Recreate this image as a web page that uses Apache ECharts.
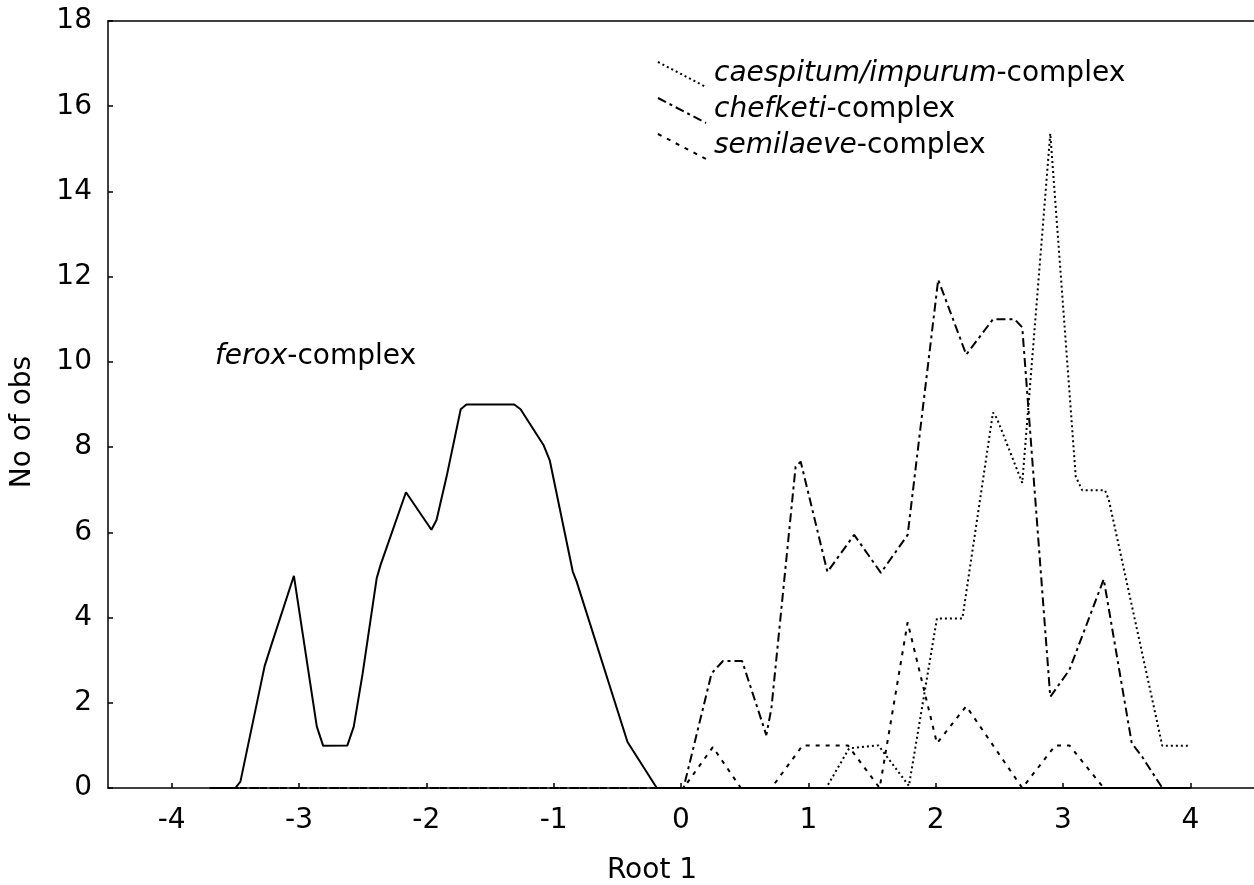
<!DOCTYPE html>
<html>
<head>
<meta charset="utf-8">
<script src="https://cdn.jsdelivr.net/npm/echarts@6/dist/echarts.min.js"></script>
<style>
  html, body { margin: 0; padding: 0; background: #fff; }
  #chart { width: 1254px; height: 885px; }
</style>
</head>
<body>
<div id="chart"></div>
<script>
// frequency polygons, Root 1 vs No of obs
var feroxX = [-3.7, -3.50, -3.46, -3.27, -3.22, -3.04, -2.86, -2.81, -2.62, -2.57, -2.50, -2.39, -2.36, -2.16, -1.96, -1.92, -1.84, -1.73, -1.685, -1.31, -1.26, -1.08, -1.03, -0.85, -0.82, -0.42, -0.38, -0.19, 4.0];
var feroxY = [0, 0, 0.15, 2.86, 3.33, 4.98, 1.44, 0.99, 1.0, 1.44, 2.69, 4.92, 5.23, 6.94, 6.06, 6.29, 7.32, 8.89, 9.0, 9.0, 8.89, 8.05, 7.68, 5.08, 4.85, 1.08, 0.89, 0, 0];

var chefketiX = [-3.7, 0.02, 0.24, 0.33, 0.48, 0.67, 0.71, 0.90, 0.94, 1.15, 1.36, 1.57, 1.78, 2.02, 2.24, 2.45, 2.62, 2.68, 2.90, 3.05, 3.32, 3.54, 3.62, 3.78, 4.0];
var chefketiY = [0, 0, 2.69, 2.98, 2.98, 1.24, 1.87, 7.54, 7.66, 5.07, 5.94, 5.05, 5.94, 11.93, 10.17, 11.0, 11.0, 10.81, 2.14, 2.77, 4.9, 1.05, 0.74, 0, 0];

var semilaeveX = [-3.7, 0.02, 0.25, 0.47, 0.71, 0.955, 1.31, 1.56, 1.78, 2.01, 2.24, 2.68, 2.94, 3.05, 3.32, 4.0];
var semilaeveY = [0, 0, 0.96, 0, 0, 1.0, 1.0, 0, 3.89, 1.05, 1.92, 0, 1.0, 1.0, 0, 0];

var caespitumX = [-3.7, 1.14, 1.32, 1.55, 1.79, 2.01, 2.21, 2.45, 2.48, 2.68, 2.90, 3.10, 3.15, 3.33, 3.36, 3.78, 3.99];
var caespitumY = [0, 0, 0.93, 1.0, 0.05, 3.98, 3.98, 8.81, 8.68, 7.16, 15.36, 7.31, 6.99, 6.99, 6.76, 0.99, 0.99];

var legendItalic = ['caespitum/impurum', 'chefketi', 'semilaeve'];
var legendSuffix = '-complex';
var feroxLabel = ['ferox', '-complex'];
var xName = 'Root 1';
var yName = 'No of obs';

var FONT = '"DejaVu Sans", sans-serif';
var dotted = [2, 3], dashDot = [9, 4, 3, 4], shortDash = [4, 6];

function zip(xs, ys){
    var out = [];
    for(var i = 0; i < xs.length; i++){
        out.push([xs[i], ys[i]]);
    }
    return out;
}

function lineSeries(name, xs, ys, dash, z){
    return {
        name: name,
        type: 'line',
        showSymbol: false,
        z: z,
        lineStyle: { color: '#000', width: 2, type: dash, cap: 'butt' },
        data: zip(xs, ys)
    };
}

// legend samples are drawn as slanted strokes like the original
var legendDash = [dotted, dashDot, shortDash];
var graphics = [];
for(var i = 0; i < legendItalic.length; i++){
    var y0 = 62 + i * 36;
    graphics.push({
        type: 'line',
        shape: { x1: 658, y1: y0, x2: 706, y2: y0 + 25 },
        style: { stroke: '#000', lineWidth: 2, lineDash: legendDash[i] }
    });
    graphics.push({
        type: 'text',
        x: 714, y: 74 + i * 36,
        style: {
            text: '{i|' + legendItalic[i] + '}{n|' + legendSuffix + '}',
            verticalAlign: 'middle',
            fill: '#000',
            rich: {
                i: { fontFamily: FONT, fontSize: 28, fontStyle: 'italic', fill: '#000' },
                n: { fontFamily: FONT, fontSize: 28, fill: '#000' }
            }
        }
    });
}
graphics.push({
    type: 'text',
    x: 215, y: 357,
    style: {
        text: '{i|' + feroxLabel[0] + '}{n|' + feroxLabel[1] + '}',
        verticalAlign: 'middle',
        fill: '#000',
        rich: {
            i: { fontFamily: FONT, fontSize: 28, fontStyle: 'italic', fill: '#000' },
            n: { fontFamily: FONT, fontSize: 28, fill: '#000' }
        }
    }
});
graphics.push({
    type: 'text',
    x: 652, y: 871,
    style: { text: xName, fontFamily: FONT, fontSize: 28, fill: '#000', align: 'center', verticalAlign: 'middle' }
});
graphics.push({
    type: 'text',
    x: 23, y: 422,
    rotation: Math.PI / 2,
    style: { text: yName, fontFamily: FONT, fontSize: 28, fill: '#000', align: 'center', verticalAlign: 'middle' }
});

var myChart = echarts.init(document.getElementById('chart'));

var option = {
    animation: false,
    backgroundColor: '#fff',
    grid: { left: 108, right: 0, top: 21, bottom: 97, containLabel: false },
    xAxis: [
        {
            type: 'value',
            min: -4.5,
            max: 4.5,
            splitNumber: 9,
            splitLine: { show: false },
            axisLine: { show: true, onZero: false, lineStyle: { color: '#000', width: 1.5 } },
            axisTick: { show: true, inside: true, length: 5, lineStyle: { color: '#000', width: 1.5 } },
            axisLabel: {
                show: true,
                margin: 19,
                showMinLabel: false,
                showMaxLabel: false,
                color: '#000',
                fontFamily: FONT,
                fontSize: 28,
                formatter: function(v){ return Math.round(v) === v ? String(v) : ''; }
            }
        },
        {
            // top frame line only
            type: 'value',
            position: 'top',
            min: -4.5,
            max: 4.5,
            splitLine: { show: false },
            axisLine: { show: true, onZero: false, lineStyle: { color: '#000', width: 1.5 } },
            axisTick: { show: false },
            axisLabel: { show: false }
        }
    ],
    yAxis: {
        type: 'value',
        min: 0,
        max: 18,
        interval: 2,
        splitLine: { show: false },
        axisLine: { show: true, onZero: false, lineStyle: { color: '#000', width: 1.5 } },
        axisTick: { show: true, inside: true, length: 5, lineStyle: { color: '#000', width: 1.5 } },
        axisLabel: { margin: 16, color: '#000', fontFamily: FONT, fontSize: 28 }
    },
    graphic: graphics,
    series: [
        lineSeries('ferox-complex', feroxX, feroxY, 'solid', 5),
        lineSeries('chefketi-complex', chefketiX, chefketiY, dashDot, 4),
        lineSeries('semilaeve-complex', semilaeveX, semilaeveY, shortDash, 3),
        lineSeries('caespitum/impurum-complex', caespitumX, caespitumY, dotted, 2)
    ]
};

myChart.setOption(option);

window.addEventListener('resize', function(){
    myChart.resize();
});
</script>
</body>
</html>
